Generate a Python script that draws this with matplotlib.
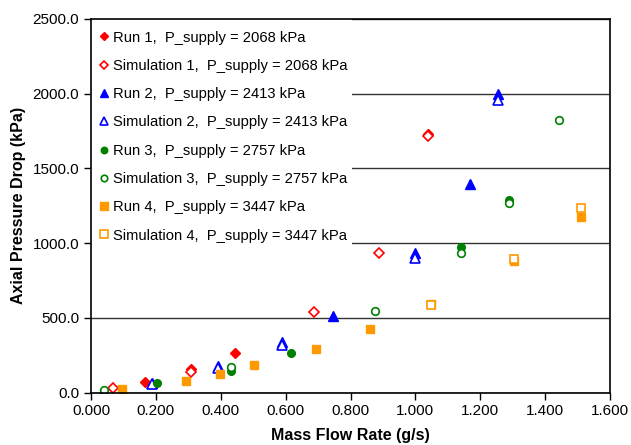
import matplotlib
matplotlib.use("Agg")
import matplotlib.pyplot as plt
from matplotlib.patches import Rectangle
from matplotlib.ticker import FormatStrFormatter, MultipleLocator

plt.rcParams['font.family'] = ['Liberation Sans', 'DejaVu Sans']

# Run / simulation data: mass flow rate (g/s) vs axial pressure drop (kPa)
run1_x = [0.167, 0.307, 0.445, 1.039]
run1_y = [73, 157, 267, 1733]
sim1_x = [0.069, 0.307, 0.687, 0.889, 1.039]
sim1_y = [32, 139, 537, 933, 1718]

run2_x = [0.189, 0.390, 0.589, 0.747, 1.000, 1.168, 1.256]
run2_y = [61, 178, 336, 513, 933, 1397, 1995]
sim2_x = [0.040, 0.189, 0.390, 0.589, 1.000, 1.256]
sim2_y = [5, 55, 162, 318, 897, 1960]

run3_x = [0.203, 0.431, 0.618, 1.142, 1.289]
run3_y = [61, 142, 265, 971, 1290]
sim3_x = [0.040, 0.431, 0.876, 1.142, 1.289, 1.442]
sim3_y = [17, 169, 546, 937, 1268, 1826]

run4_x = [0.095, 0.293, 0.399, 0.503, 0.695, 0.860, 1.048, 1.303, 1.512]
run4_y = [21, 77, 126, 182, 291, 423, 590, 877, 1172]
sim4_x = [1.048, 1.303, 1.512]
sim4_y = [586, 893, 1232]

labels = [
    "Run 1,  P_supply = 2068 kPa",
    "Simulation 1,  P_supply = 2068 kPa",
    "Run 2,  P_supply = 2413 kPa",
    "Simulation 2,  P_supply = 2413 kPa",
    "Run 3,  P_supply = 2757 kPa",
    "Simulation 3,  P_supply = 2757 kPa",
    "Run 4,  P_supply = 3447 kPa",
    "Simulation 4,  P_supply = 3447 kPa",
]

red = '#FF0000'
blue = '#0000FF'
green = '#008000'
orange = '#FF9900'

fig = plt.figure(figsize=(6.31, 4.45), dpi=100)
ax = fig.add_axes([91 / 631, 1 - 392.5 / 445, 519 / 631, 373.5 / 445])

# each series: filled run markers, open simulation markers
ax.plot(run1_x, run1_y, 'D', ms=5, color=red, mec=red, label=labels[0])
ax.plot(sim1_x, sim1_y, 'D', ms=5, mfc='white', mec=red, mew=1.2, label=labels[1])
ax.plot(run2_x, run2_y, '^', ms=6.5, color=blue, mec=blue, label=labels[2])
ax.plot(sim2_x, sim2_y, '^', ms=6.5, mfc='white', mec=blue, mew=1.2, label=labels[3])
ax.plot(run3_x, run3_y, 'o', ms=5.5, color=green, mec=green, label=labels[4])
ax.plot(sim3_x, sim3_y, 'o', ms=5.5, mfc='white', mec=green, mew=1.2, label=labels[5])
ax.plot(run4_x, run4_y, 's', ms=6, color=orange, mec=orange, label=labels[6])
ax.plot(sim4_x, sim4_y, 's', ms=6, mfc='white', mec=orange, mew=1.2, label=labels[7])

ax.set_xlim(0, 1.6)
ax.set_ylim(0, 2500)
ax.xaxis.set_major_locator(MultipleLocator(0.2))
ax.yaxis.set_major_locator(MultipleLocator(500))
ax.xaxis.set_major_formatter(FormatStrFormatter('%.3f'))
ax.yaxis.set_major_formatter(FormatStrFormatter('%.1f'))
ax.tick_params(direction='out', length=5, width=1, labelsize=11, colors='black')

ax.yaxis.grid(True, color='#333333', linewidth=1)
ax.set_axisbelow(True)
for s in ax.spines.values():
    s.set_linewidth(1.2)
    s.set_color('black')
    s.set_zorder(6)

ax.set_xlabel('Mass Flow Rate (g/s)', fontsize=11.5, fontweight='bold', labelpad=7)
ax.set_ylabel('Axial Pressure Drop (kPa)', fontsize=11.5, fontweight='bold', labelpad=5)

# white legend background box (covers gridlines, like the original)
ax.add_patch(Rectangle((0, 0.387), 0.503, 0.613, transform=ax.transAxes,
                       facecolor='white', edgecolor='none', zorder=1.5))

leg = ax.legend(loc='upper left', bbox_to_anchor=(0.0164, 0.969), frameon=False,
                fontsize=10.6, borderaxespad=0, borderpad=0,
                handlelength=0.6, handletextpad=0.35, labelspacing=0.97,
                numpoints=1, markerscale=0.85)
leg.set_zorder(5)

fig.savefig('out.png', dpi=100)
